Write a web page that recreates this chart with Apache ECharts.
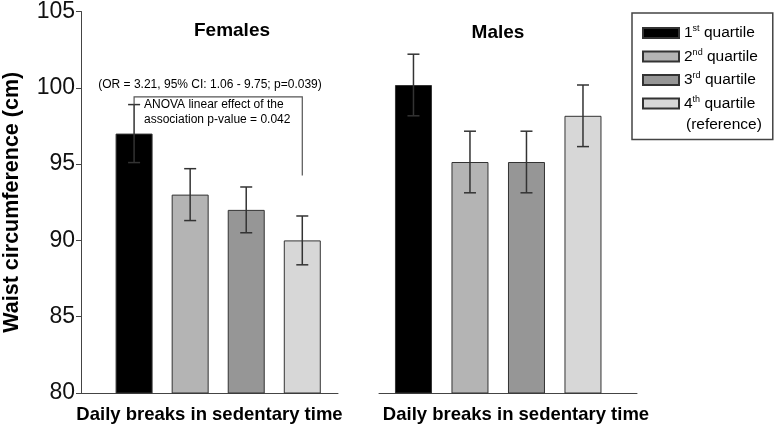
<!DOCTYPE html>
<html><head><meta charset="utf-8">
<script src="https://cdn.jsdelivr.net/npm/echarts@6/dist/echarts.min.js"></script>
<style>html,body{margin:0;padding:0;background:#fff}#c{width:780px;height:429px}</style>
</head><body><div id="c"></div>
<script>
const quartiles = ['1st quartile', '2nd quartile', '3rd quartile', '4th quartile'];
const quartileNum = ['1', '2', '3', '4'];
const quartileSup = ['st', 'nd', 'rd', 'th'];
const colors = ['#000000', '#b4b4b4', '#969696', '#d7d7d7'];
const femaleMeans = [97, 93, 92, 90];
const femaleErr = [1.9, 1.7, 1.5, 1.6];
const maleMeans = [100, 95, 95, 98];
const maleErr = [2, 2, 2, 2];
const yMin = 80, yMax = 105, yStep = 5;
// bracket: from category, to category, top level, left end, right end
const bracket = [[1, 4, 99.4, 98.9, 94.25]];

const FF = 'Liberation Sans, Arial, sans-serif';
const chart = echarts.init(document.getElementById('c'), null, {renderer: 'canvas'});

function errRender(params, api) {
  const x = api.value(0), v = api.value(1), e = api.value(2);
  const top = api.coord([x, v + e]), bot = api.coord([x, v - e]);
  const hw = 6;
  const st = {stroke: '#333', lineWidth: 1.5};
  return {type: 'group', children: [
    {type: 'line', shape: {x1: top[0], y1: top[1], x2: bot[0], y2: bot[1]}, style: st},
    {type: 'line', shape: {x1: top[0] - hw, y1: top[1], x2: top[0] + hw, y2: top[1]}, style: st},
    {type: 'line', shape: {x1: bot[0] - hw, y1: bot[1], x2: bot[0] + hw, y2: bot[1]}, style: st}
  ]};
}
function bracketRender(params, api) {
  const a = api.value(0), b = api.value(1), t = api.value(2), l = api.value(3), r = api.value(4);
  const p1 = api.coord([a, l]), p2 = api.coord([a, t]), p3 = api.coord([b, t]), p4 = api.coord([b, r]);
  return {type: 'polyline', shape: {points: [p1, p2, p3, p4]}, style: {stroke: '#555', lineWidth: 1.2, fill: null}};
}

const series = [];
[[femaleMeans, femaleErr], [maleMeans, maleErr]].forEach(function (pair, g) {
  const means = pair[0], errs = pair[1];
  quartiles.forEach(function (q, i) {
    series.push({
      type: 'bar', name: q, xAxisIndex: g, yAxisIndex: g,
      data: [[i + 1, means[i]]], barWidth: 37, barGap: '-100%', clip: true,
      itemStyle: {color: colors[i], borderColor: '#333', borderWidth: 1},
      emphasis: {disabled: true}
    });
  });
  series.push({
    type: 'custom', name: 'err' + g, xAxisIndex: g, yAxisIndex: g, z: 3,
    renderItem: errRender,
    data: means.map(function (m, i) { return [i + 1, m, errs[i]]; })
  });
});
series.push({type: 'custom', name: 'bracket', xAxisIndex: 0, yAxisIndex: 0, z: 3, renderItem: bracketRender, data: bracket});

const xName = 'Daily breaks in sedentary time';
const option = {
  animation: false,
  textStyle: {fontFamily: FF},
  grid: [
    {left: 79, top: 8, width: 259, height: 390},
    {left: 379, top: 8, width: 258, height: 390}
  ],
  xAxis: [
    {gridIndex: 0, type: 'value', min: 0.053, max: 4.637,
     axisLine: {show: true, onZero: false, lineStyle: {color: '#444'}}, axisTick: {show: false}, axisLabel: {show: false}, splitLine: {show: false},
     name: xName, nameLocation: 'middle', nameGap: 12, nameTextStyle: {fontSize: 18.5, fontWeight: 'bold', color: '#000', fontFamily: FF}},
    {gridIndex: 1, type: 'value', min: 0.39, max: 4.956,
     axisLine: {show: true, onZero: false, lineStyle: {color: '#444'}}, axisTick: {show: false}, axisLabel: {show: false}, splitLine: {show: false},
     name: xName, nameLocation: 'middle', nameGap: 12, nameTextStyle: {fontSize: 18.5, fontWeight: 'bold', color: '#000', fontFamily: FF, padding: [0, 0, 0, 16]}}
  ],
  yAxis: [
    {gridIndex: 0, type: 'value', min: yMin, max: yMax, interval: yStep,
     axisLine: {show: true, onZero: false, lineStyle: {color: '#444'}},
     axisTick: {show: true, length: 5, lineStyle: {color: '#444'}},
     axisLabel: {fontSize: 23, color: '#111', margin: 6, fontFamily: FF},
     splitLine: {show: false},
     name: 'Waist circumference (cm)', nameLocation: 'middle', nameGap: 58,
     nameTextStyle: {fontSize: 21.5, fontWeight: 'bold', color: '#000', fontFamily: FF}},
    {gridIndex: 1, type: 'value', min: yMin, max: yMax, interval: yStep, show: false}
  ],
  legend: {
    orient: 'vertical', left: 632, top: 13, data: quartiles,
    itemWidth: 36, itemHeight: 10, itemGap: 7,
    padding: [11.5, 15, 28, 10],
    borderColor: '#444', borderWidth: 1.5,
    selectedMode: false, icon: 'rect',
    formatter: function (name) {
      const i = quartiles.indexOf(name);
      return '{a|' + quartileNum[i] + '}{s|' + quartileSup[i] + '}{a| quartile}';
    },
    textStyle: {color: '#000', rich: {
      a: {fontSize: 15.5, lineHeight: 17, fontFamily: FF, color: '#000'},
      s: {fontSize: 9, lineHeight: 10, verticalAlign: 'top', fontFamily: FF, color: '#000'}
    }}
  },
  graphic: [
    {type: 'text', x: 232, y: 31, style: {text: 'Females', fontSize: 19, fontWeight: 'bold', fontFamily: FF, fill: '#000', align: 'center', verticalAlign: 'middle'}},
    {type: 'text', x: 498, y: 33, style: {text: 'Males', fontSize: 19, fontWeight: 'bold', fontFamily: FF, fill: '#000', align: 'center', verticalAlign: 'middle'}},
    {type: 'text', x: 210, y: 85, style: {text: '(OR = 3.21, 95% CI: 1.06 - 9.75; p=0.039)', fontSize: 12, fontFamily: FF, fill: '#000', align: 'center', verticalAlign: 'middle'}},
    {type: 'text', x: 144, y: 97.75, style: {text: 'ANOVA linear effect of the\nassociation p-value = 0.042', fontSize: 12, lineHeight: 14.5, fontFamily: FF, fill: '#000', align: 'left', verticalAlign: 'top'}},
    {type: 'text', x: 686, y: 125, style: {text: '(reference)', fontSize: 15.5, fontFamily: FF, fill: '#000', align: 'left', verticalAlign: 'middle'}}
  ],
  series: series
};
chart.setOption(option);
</script>
</body></html>
